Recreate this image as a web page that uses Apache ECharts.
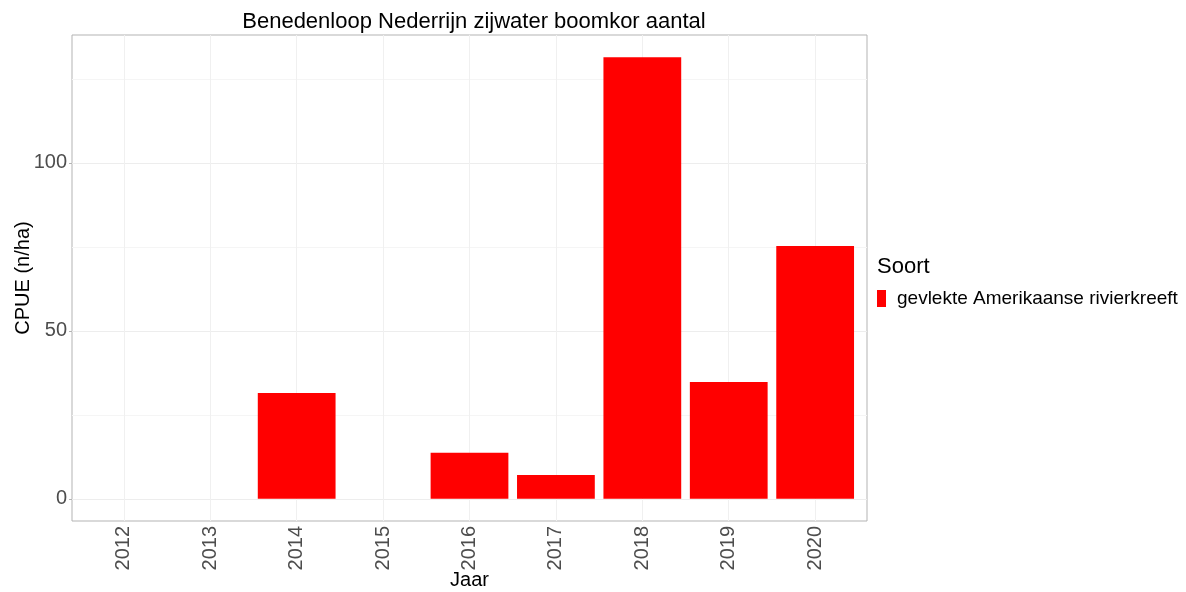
<!DOCTYPE html>
<html>
<head>
<meta charset="utf-8">
<script src="https://cdn.jsdelivr.net/npm/echarts@6/dist/echarts.min.js"></script>
<style>
html,body{margin:0;padding:0;background:#fff;}
#chart{width:1186px;height:592px;}
</style>
</head>
<body>
<div id="chart"></div>
<script>
var jaren = ["2012","2013","2014","2015","2016","2017","2018","2019","2020"];
var cpue = [0, 0, 31.5, 0, 13.7, 7.1, 131.5, 34.8, 75.3];
var yLabels = [0, 50, 100];
var yMajor = [0, 50, 100];
var yMinor = [25, 75, 125];
var soort = "gevlekte Amerikaanse rivierkreeft";

var chart = echarts.init(document.getElementById("chart"));
var font = "Liberation Sans, Arial, sans-serif";

// paneel 72..867, ggplot zet 0.6 categorie marge aan elke kant
var panelL = 72, panelR = 867;
var unit = (panelR - panelL) / (jaren.length + 0.2);
var inset = 0.1 * unit;

var hLines = [];
yMinor.forEach(function (v) {
    hLines.push({yAxis: v, lineStyle: {color: "#f5f5f5", width: 1, type: "solid"}});
});
yMajor.forEach(function (v) {
    hLines.push({yAxis: v, lineStyle: {color: "#ededed", width: 1, type: "solid"}});
});
var vLines = jaren.map(function (j) {
    return {xAxis: j, lineStyle: {color: "#f0f0f0", width: 1, type: "solid"}};
});

option = {
    animation: false,
    backgroundColor: "#fff",
    textStyle: {fontFamily: font},
    title: [
        {
            text: "Benedenloop Nederrijn zijwater boomkor aantal",
            left: 469,
            top: 6,
            textAlign: "center",
            textStyle: {fontSize: 22, fontWeight: "normal", color: "#000", fontFamily: font}
        },
        {
            text: "Soort",
            left: 872,
            top: 251,
            textStyle: {fontSize: 22, fontWeight: "normal", color: "#000", fontFamily: font}
        }
    ],
    legend: {
        data: [soort],
        left: 872,
        top: 284,
        orient: "vertical",
        itemWidth: 9,
        itemHeight: 17,
        icon: "rect",
        textStyle: {fontSize: 19, color: "#000", fontFamily: font, padding: [0, 0, 0, 6]}
    },
    grid: [
        {
            left: panelL,
            right: 1186 - panelR,
            top: 35,
            bottom: 71,
            outerBoundsMode: "none",
            show: true,
            borderColor: "#b3b3b3",
            borderWidth: 1,
            backgroundColor: "#fff"
        },
        {
            left: panelL + inset,
            right: 1186 - panelR + inset,
            top: 35,
            bottom: 71,
            outerBoundsMode: "none"
        }
    ],
    xAxis: [
        {
            gridIndex: 0,
            type: "value",
            min: 0,
            max: 1,
            show: false
        },
        {
            gridIndex: 1,
            type: "category",
            data: jaren,
            name: "Jaar",
            nameLocation: "middle",
            nameGap: 49,
            nameMoveOverlap: false,
            nameTextStyle: {fontSize: 20, color: "#000", fontFamily: font},
            axisLine: {show: false},
            axisTick: {show: true, alignWithLabel: true, length: 3, lineStyle: {color: "#b3b3b3"}},
            axisLabel: {rotate: 90, fontSize: 20, color: "#4d4d4d", margin: 5, fontFamily: font},
            splitLine: {show: false}
        }
    ],
    yAxis: [
        {
            gridIndex: 0,
            type: "value",
            min: -6.6,
            max: 138.1,
            name: "CPUE (n/ha)",
            nameLocation: "middle",
            nameGap: 39,
            nameMoveOverlap: false,
            nameTextStyle: {fontSize: 20, color: "#000", fontFamily: font},
            axisLine: {show: false},
            axisTick: {show: true, length: 3, customValues: yLabels, lineStyle: {color: "#b3b3b3"}},
            axisLabel: {fontSize: 20, color: "#4d4d4d", margin: 5, customValues: yLabels, fontFamily: font},
            splitLine: {show: false}
        },
        {
            gridIndex: 1,
            type: "value",
            min: -6.6,
            max: 138.1,
            show: false,
            splitLine: {show: false}
        }
    ],
    series: [
        {
            name: "hgrid",
            type: "line",
            xAxisIndex: 0,
            yAxisIndex: 0,
            data: [],
            zlevel: 0,
            silent: true,
            markLine: {
                silent: true,
                symbol: "none",
                label: {show: false},
                animation: false,
                data: hLines
            }
        },
        {
            name: "vgrid",
            type: "line",
            xAxisIndex: 1,
            yAxisIndex: 1,
            data: [],
            zlevel: 0,
            silent: true,
            markLine: {
                silent: true,
                symbol: "none",
                label: {show: false},
                animation: false,
                data: vLines
            }
        },
        {
            name: soort,
            type: "bar",
            xAxisIndex: 1,
            yAxisIndex: 1,
            zlevel: 1,
            data: cpue,
            barCategoryGap: "10%",
            itemStyle: {color: "#ff0000"}
        }
    ]
};
chart.setOption(option);
</script>
</body>
</html>
